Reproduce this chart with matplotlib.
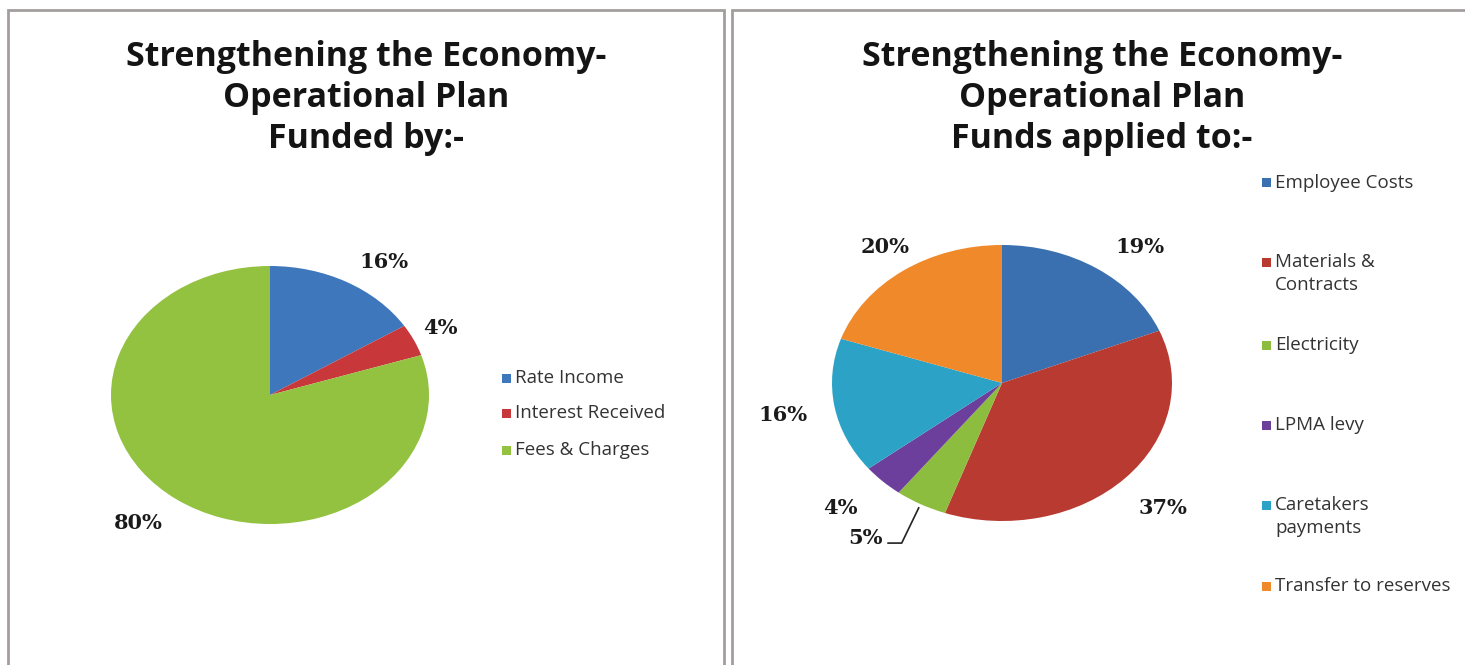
import matplotlib
matplotlib.use("Agg")
import matplotlib.pyplot as plt
from matplotlib.patches import Rectangle
from matplotlib.lines import Line2D

# ---- data -------------------------------------------------------------
title_left = "Strengthening the Economy-\nOperational Plan\nFunded by:-"
title_right = "Strengthening the Economy-\nOperational Plan\nFunds applied to:-"

funding_labels = ["Rate Income", "Interest Received", "Fees & Charges"]
funding_values = [16, 4, 80]

spend_labels = ["Employee Costs", "Materials &\nContracts", "Electricity",
                "LPMA levy", "Caretakers\npayments", "Transfer to reserves"]
spend_values = [19, 37, 5, 4, 16, 20]

# ---- styling ----------------------------------------------------------
funding_colors = ["#3f77bd", "#c8373a", "#93c140"]
spend_colors = ["#3a6fb0", "#b83a31", "#8cbd3f", "#6c3f9c", "#2ca3c6", "#f0892a"]

W, H = 1465, 665
fig = plt.figure(figsize=(W / 100, H / 100), dpi=100)
fig.patch.set_facecolor("white")


def fx(x):
    return x / W


def fy(y):
    return 1 - y / H


def box(x0, y0, x1, y1):
    return [fx(x0), fy(y1), fx(x1) - fx(x0), fy(y0) - fy(y1)]


# panel frames
for (x0, x1) in [(8, 724), (732, 1475)]:
    fig.add_artist(Rectangle((fx(x0), fy(680)), fx(x1) - fx(x0), fy(10) - fy(680),
                             transform=fig.transFigure, fill=False,
                             edgecolor="#a39d9d", linewidth=2.0))

title_font = dict(family="Open Sans", weight="bold", fontsize=24.5,
                  color="#141414", ha="center", va="top", linespacing=1.27)
fig.text(fx(366), fy(40), title_left, **title_font)
fig.text(fx(1102), fy(40), title_right, **title_font)

label_font = dict(family="DejaVu Serif", weight="bold", fontsize=15,
                  color="#1a1a1a", ha="center", va="center")
legend_font = dict(family="Open Sans", fontsize=13.5, color="#333333",
                   ha="left", va="center", linespacing=1.2)


def draw_pie(ax_box, values, colors, label_pos):
    ax = fig.add_axes(ax_box)
    ax.pie(values, colors=colors, startangle=90, counterclock=False,
           radius=1.0, wedgeprops=dict(linewidth=0))
    ax.set_aspect("auto")
    ax.set_xlim(-1, 1)
    ax.set_ylim(-1, 1)
    ax.axis("off")
    for v, (lx, ly) in zip(values, label_pos):
        ax.text(lx, ly, f"{v}%", clip_on=False, **label_font)
    return ax


# left pie: funding sources
draw_pie(box(111, 266, 429, 524), funding_values, funding_colors,
         [(0.72, 1.03), (1.07, 0.52), (-0.83, -0.99)])

# right pie: application of funds
ax_r = draw_pie(box(832, 245, 1172, 521), spend_values, spend_colors,
                [(0.81, 0.985), (0.95, -0.905), (-0.80, -1.12),
                 (-0.95, -0.905), (-1.29, -0.23), (-0.69, 0.985)])
# leader line for the small Electricity label
ax_r.add_line(Line2D([-0.67, -0.59, -0.49], [-1.16, -1.16, -0.905],
                     color="#222222", linewidth=1.2, clip_on=False))

# legends
sq = 9


def legend_entry(x, y, color, text):
    fig.add_artist(Rectangle((fx(x), fy(y + sq / 2)), sq / W, sq / H,
                             transform=fig.transFigure, facecolor=color,
                             edgecolor="none"))
    fig.text(fx(x + 13), fy(y), text, **legend_font)


for lab, col, y in zip(funding_labels, funding_colors, [378, 413, 450]):
    legend_entry(502, y, col, lab)

right_rows = [183, 262, 345, 425, 505, 586]
for lab, col, y in zip(spend_labels, spend_colors, right_rows):
    if "\n" in lab:
        first, second = lab.split("\n")
        legend_entry(1262, y, col, first)
        fig.text(fx(1275), fy(y + 23), second, **legend_font)
    else:
        legend_entry(1262, y, col, lab)

fig.savefig("out.png", dpi=100, facecolor="white")
